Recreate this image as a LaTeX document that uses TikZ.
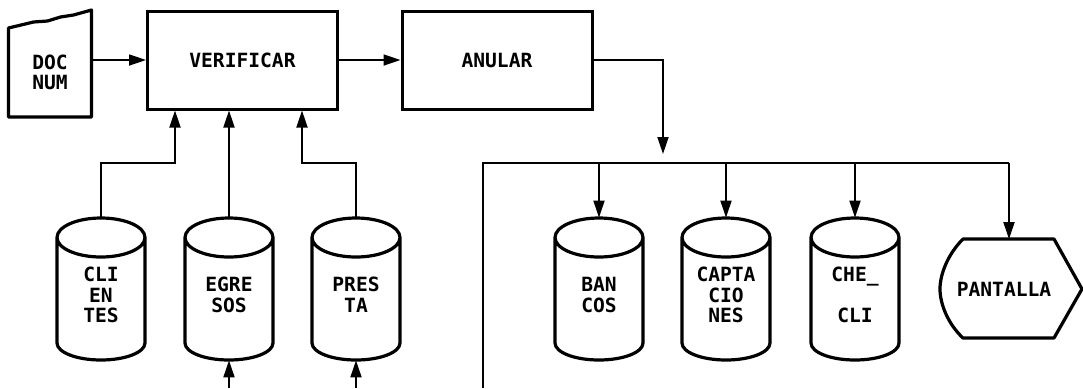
\documentclass[tikz,border=0pt]{standalone}
\usepackage{fontspec}
\setmainfont{DejaVu Sans Mono}
\usetikzlibrary{arrows.meta,positioning,calc}
\newcommand{\dfdfont}{\fontsize{9.8}{10.3}\selectfont\bfseries}
\tikzset{
  procbox/.style={draw=black,line width=1.5pt,
                  minimum width=95pt,minimum height=49pt,
                  inner sep=0pt,font=\dfdfont},
  docshape/.style={inner sep=0pt,minimum width=41.5pt,minimum height=44pt,
                   align=center,font=\dfdfont},
  dispshape/.style={inner sep=0pt,minimum height=49.5pt,font=\dfdfont},
  dbstore/.style={inner sep=0pt,minimum width=44pt,minimum height=71pt},
  dbtext/.style={anchor=north,inner sep=0pt,align=center,
                 font=\dfdfont,yshift=-3pt},
  shapeline/.style={line width=1.6pt,line join=round},
  flowarr/.style={-{Triangle[length=8.5pt,width=5.5pt]},line width=0.9pt},
  busline/.style={line width=0.9pt}
}

\begin{document}
\begin{tikzpicture}[x=0.5pt,y=-0.5pt]
  \useasboundingbox (0,0) rectangle (1083,388);

  % top row
  \node[docshape] (docnum) at (50,72.5) {DOC\\NUM};
  \draw[shapeline,shift={(docnum.center)}] (-41.5,-44.5) -- (-41.5,44.5)
    -- (41.5,44.5) -- (41.5,-62.5) -- (23.5,-57.5) -- (10.5,-55.5)
    -- (-2.5,-51.5) -- (-16.5,-50.5) -- cycle;
  \node[procbox] (verificar) at (242.5,60) {VERIFICAR};
  \node[procbox] (anular) at (497,60) {ANULAR};
  \draw[flowarr] (docnum.east |- verificar.west) -- (verificar.west);
  \draw[flowarr] (verificar) -- (anular);

  % files read by VERIFICAR
  \node[dbstore,label={[dbtext]center:{CLI\\EN\\TES}}] (clientes) at (101,289) {};
  \node[dbstore,label={[dbtext]center:{EGRE\\SOS}}] (egresos) at (229,289) {};
  \node[dbstore,label={[dbtext]center:{PRES\\TA}}] (presta) at (356,289) {};

  % outputs of ANULAR
  \node[dbstore,label={[dbtext]center:{BAN\\COS}}] (bancos) at (599,289) {};
  \node[dbstore,label={[dbtext]center:{CAPTA\\CIO\\NES}}] (captaciones) at (726,289) {};
  \node[dbstore,label={[dbtext]center:{CHE\_\\\mbox{}\\CLI}}] (checli) at (855,289) {};
  \node[dispshape] (pantalla) at (1004,289) {PANTALLA};

  % cylinder outlines
  \foreach \db in {clientes,egresos,presta,bancos,captaciones,checli}
    \draw[shapeline,y=0.5pt,shift={(\db.center)}]
      (-44,51.5) arc[start angle=180,end angle=0,x radius=44,y radius=19.5]
      -- (44,-54) arc[start angle=0,end angle=-180,x radius=44,y radius=17]
      -- cycle
      (-44,51.5) arc[start angle=180,end angle=360,x radius=44,y radius=19.5];
  \draw[shapeline,shift={(pantalla.center)}] (-41,-50) -- (50,-50) -- (78,0)
    -- (50,49) -- (-41,49) .. controls (-56,35) and (-64,15) .. (-64,0)
    .. controls (-64,-15) and (-56,-35) .. (-41,-50) -- cycle;

  \draw[flowarr] (clientes.north) -- ++(0,-55) -| ($(verificar.south west)+(29,0)$);
  \draw[flowarr] (egresos.north) -- (egresos.north |- verificar.south);
  \draw[flowarr] (presta.north) -- ++(0,-55) -| ($(verificar.south west)+(156,0)$);
  \coordinate (egin) at (229,388);
  \coordinate (prin) at (356,388);
  \draw[flowarr] (egin) -- (egresos.south);
  \draw[flowarr] (prin) -- (presta.south);

  \coordinate (busL) at (483,163);
  \coordinate (busR) at (1009,163);
  \coordinate (busend) at (483,388);
  \coordinate (busin) at (663,154);
  \draw[flowarr] (anular.east) -| (busin);
  \draw[busline] (busend) -- (busL) -- (busR);
  \foreach \db in {bancos,captaciones,checli}
    \draw[flowarr] (\db.north |- busL) -- (\db.north);
  \draw[flowarr] (busR) -- (busR |- pantalla.north);
\end{tikzpicture}
\end{document}
